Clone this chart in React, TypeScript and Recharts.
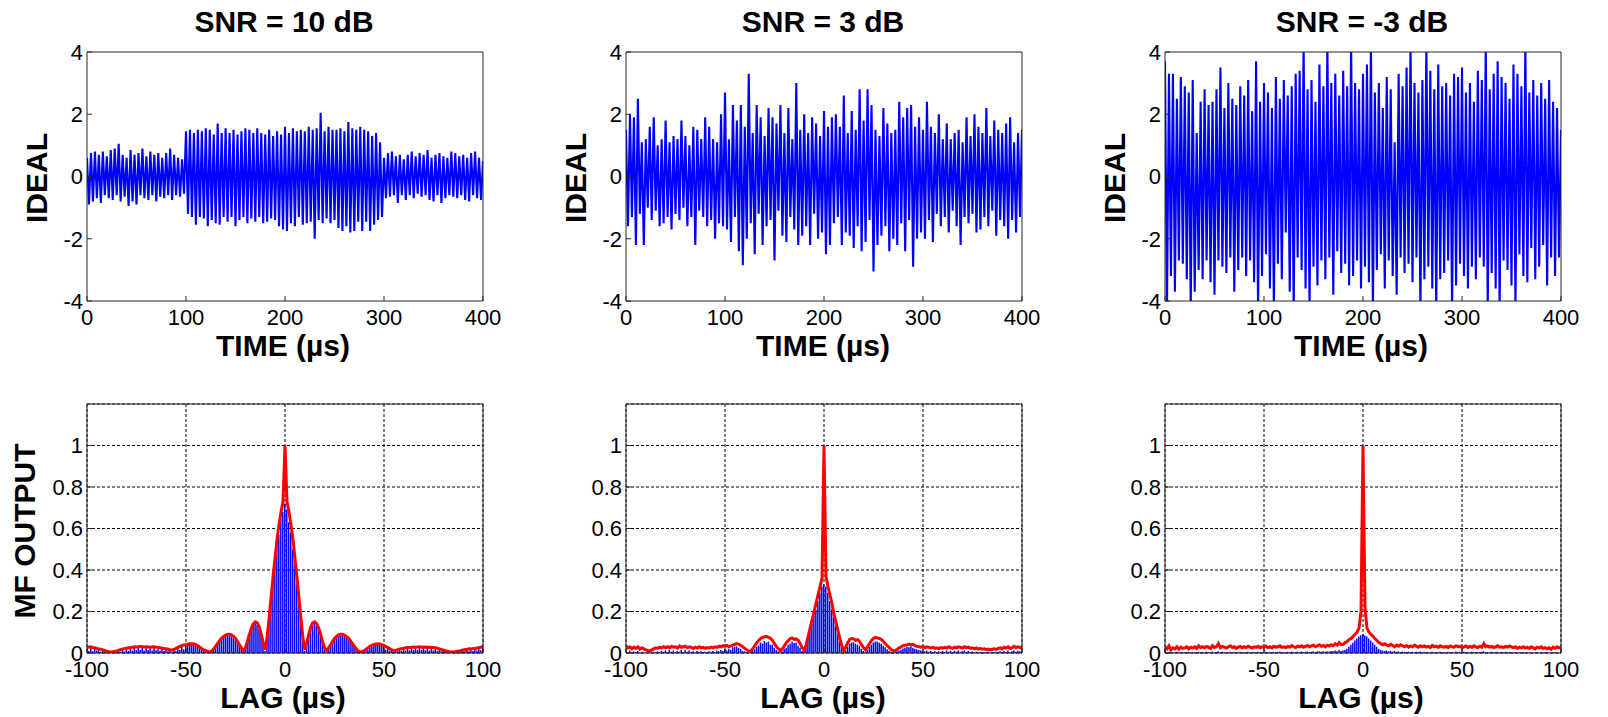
import { LineChart, Line, ComposedChart, Bar, XAxis, YAxis, CartesianGrid } from 'recharts'

// sample spacing of the time traces (µs) and first lag of the MF outputs (µs)
const timeStep = 2
const lagStart = -100

const titles = ['SNR = 10 dB', 'SNR = 3 dB', 'SNR = -3 dB']
const timeTicks = [0, 100, 200, 300, 400]
const idealTicks = [-4, -2, 0, 2, 4]
const lagTicks = [-100, -50, 0, 50, 100]
const mfTicks = [0, 0.2, 0.4, 0.6, 0.8, 1]

const ideal10 = [
  0.6, -0.9, 0.75, -0.8, 0.8, -0.7, 0.7, -0.85, 0.8, -0.6,
  0.65, -0.7, 0.85, -0.75, 0.9, -0.6, 1.05, -0.8, 0.7, -0.65,
  0.6, -0.95, 0.85, -0.8, 0.7, -0.9, 0.75, -0.6, 0.9, -0.7,
  0.65, -0.75, 0.8, -0.6, 0.7, -0.8, 0.75, -0.65, 0.6, -0.7,
  0.75, -0.6, 0.9, -0.75, 0.7, -0.6, 0.6, -0.65, 0.55, -0.55,
  1.45, -1.2, 1.5, -1.3, 1.4, -1.55, 1.5, -1.3, 1.45, -1.35,
  1.55, -1.6, 1.5, -1.4, 1.35, -1.5, 1.7, -1.55, 1.4, -1.3,
  1.55, -1.45, 1.4, -1.3, 1.5, -1.6, 1.35, -1.4, 1.45, -1.3,
  1.55, -1.5, 1.5, -1.35, 1.4, -1.45, 1.55, -1.3, 1.4, -1.5,
  1.35, -1.45, 1.5, -1.35, 1.3, -1.4, 1.45, -1.6, 1.35, -1.7,
  1.6, -1.75, 1.4, -1.5, 1.55, -1.6, 1.45, -1.3, 1.5, -1.55,
  1.45, -1.5, 1.6, -1.45, 1.5, -2.0, 1.55, -1.4, 2.05, -1.5,
  1.45, -1.35, 1.6, -1.5, 1.5, -1.4, 1.5, -1.65, 1.55, -1.75,
  1.45, -1.6, 1.75, -1.8, 1.55, -1.75, 1.5, -1.45, 1.6, -1.75,
  1.5, -1.45, 1.45, -1.75, 1.3, -1.55, 1.4, -1.4, 1.1, -1.3,
  0.6, -0.7, 0.75, -0.65, 0.8, -0.6, 0.65, -0.85, 0.7, -0.6,
  0.55, -0.75, 0.7, -0.6, 0.8, -0.7, 0.65, -0.55, 0.75, -0.65,
  0.7, -0.6, 0.85, -0.75, 0.6, -0.8, 0.7, -0.6, 0.75, -0.85,
  0.65, -0.7, 0.6, -0.6, 0.8, -0.65, 0.75, -0.7, 0.65, -0.6,
  0.7, -0.75, 0.6, -0.8, 0.75, -0.6, 0.8, -0.7, 0.6, -0.75,
  0.5,
]

const ideal3 = [
  1.5, -1.6, 2.0, -1.3, 1.9, -2.2, 2.5, -1.2, 1.1, -2.2,
  1.2, -1.0, 1.6, -1.4, 1.9, -1.1, 1.0, -1.6, 1.2, -1.5,
  1.8, -1.3, 1.1, -1.7, 1.3, -1.2, 1.2, -1.4, 1.8, -1.0,
  1.3, -1.6, 1.0, -1.3, 1.6, -2.2, 1.5, -1.1, 1.2, -1.3,
  1.9, -1.6, 1.6, -1.4, 1.2, -2.0, 1.1, -1.5, 2.0, -1.6,
  2.7, -1.7, 1.2, -2.1, 2.3, -1.3, 1.8, -2.4, 2.3, -2.85,
  1.6, -2.0, 3.3, -1.5, 1.4, -2.5, 2.3, -1.2, 1.9, -2.2,
  1.3, -1.6, 2.2, -1.4, 1.9, -2.7, 1.7, -1.1, 2.3, -1.9,
  1.4, -2.1, 2.2, -1.3, 1.2, -1.7, 3.0, -2.2, 1.5, -1.9,
  2.0, -1.6, 1.4, -2.2, 1.9, -1.2, 1.7, -2.0, 1.3, -1.8,
  2.1, -2.5, 1.6, -2.2, 1.9, -1.5, 2.0, -1.3, 1.6, -2.2,
  2.6, -1.8, 1.4, -1.9, 2.1, -2.3, 1.5, -1.6, 2.8, -2.4,
  1.8, -2.1, 2.8, -1.4, 2.3, -3.05, 1.5, -2.2, 1.3, -1.9,
  2.2, -1.6, 1.7, -2.4, 1.4, -2.0, 1.5, -2.2, 2.4, -1.5,
  1.9, -2.4, 2.2, -1.4, 2.3, -2.9, 1.6, -2.0, 1.9, -1.8,
  1.5, -2.0, 2.4, -1.4, 1.6, -2.1, 1.4, -1.2, 2.0, -1.6,
  1.2, -1.3, 1.7, -1.8, 1.2, -1.1, 1.4, -1.6, 1.5, -2.2,
  1.1, -1.3, 1.9, -1.5, 1.3, -1.2, 2.0, -1.8, 1.6, -1.7,
  1.4, -1.3, 2.2, -1.6, 1.3, -1.1, 1.8, -1.9, 1.5, -1.4,
  1.4, -1.6, 1.7, -2.0, 1.9, -1.4, 1.1, -1.8, 1.4, -1.3,
  1.5,
]

const idealM3 = [
  3.7, -4.3, 3.3, -3.2, 3.3, -3.7, 2.5, -2.7, 3.2, -2.8,
  2.9, -3.3, 2.7, -4.3, 3.1, -3.7, 1.4, -3.0, 2.4, -3.3,
  2.8, -2.7, 2.3, -3.4, 2.4, -3.8, 2.8, -2.7, 3.5, -2.9,
  2.2, -3.1, 3.0, -2.6, 2.5, -3.7, 2.3, -3.0, 2.9, -2.6,
  2.6, -3.2, 3.1, -2.7, 2.1, -3.4, 3.7, -4.3, 2.4, -3.2,
  3.0, -2.5, 2.7, -3.6, 2.2, -4.3, 3.2, -2.8, 2.5, -3.3,
  3.1, -1.8, 2.6, -3.7, 2.9, -4.3, 3.3, -2.6, 3.4, -3.0,
  4.3, -3.6, 2.8, -4.3, 3.1, -2.9, 2.4, -3.5, 3.6, -2.7,
  2.9, -3.3, 4.3, -2.6, 3.0, -3.8, 3.3, -2.4, 2.6, -3.1,
  3.4, -2.8, 2.9, -3.5, 4.3, -3.2, 3.0, -2.7, 2.8, -3.6,
  3.3, -2.9, 3.6, -3.4, 4.3, -4.3, 2.7, -3.0, 3.0, -2.5,
  2.2, -3.6, 3.2, -2.7, 2.8, -3.2, 1.1, -3.8, 3.3, -2.6,
  2.9, -3.1, 3.5, -2.8, 4.3, -3.4, 3.0, -2.6, 2.7, -4.3,
  3.1, -3.3, 4.3, -2.9, 3.4, -3.6, 2.8, -4.3, 3.6, -3.3,
  2.9, -3.1, 3.0, -2.7, 2.6, -4.3, 3.3, -3.5, 3.2, -2.8,
  3.5, -3.2, 2.7, -3.6, 3.0, -2.9, 2.4, -3.3, 3.4, -2.6,
  3.1, -2.9, 4.3, -4.3, 2.8, -3.1, 3.3, -3.6, 3.7, -4.3,
  3.2, -2.7, 3.0, -3.0, 2.5, -3.5, 3.6, -4.3, 3.3, -2.5,
  2.9, -3.2, 4.3, -3.4, 2.7, -2.3, 3.1, -3.3, 2.6, -2.9,
  3.0, -2.2, 2.5, -3.5, 3.1, -2.6, 2.4, -3.2, 2.2, -2.6,
  1.5,
]

// MF output envelopes (red) and raw outputs (blue), lag -100..100 µs
const env10 = [
  0.03, 0.028, 0.03, 0.025, 0.025, 0.022, 0.02, 0.018, 0.015, 0.012,
  0.008, 0.006, 0.005, 0.006, 0.008, 0.01, 0.013, 0.016, 0.019, 0.021,
  0.023, 0.025, 0.026, 0.028, 0.03, 0.029, 0.03, 0.031, 0.03, 0.029,
  0.03, 0.029, 0.028, 0.029, 0.03, 0.028, 0.026, 0.025, 0.023, 0.021,
  0.02, 0.018, 0.015, 0.015, 0.018, 0.022, 0.027, 0.032, 0.036, 0.039,
  0.04, 0.043, 0.045, 0.045, 0.043, 0.04, 0.035, 0.028, 0.02, 0.015,
  0.012, 0.007, 0.004, 0.01, 0.02, 0.033, 0.047, 0.06, 0.072, 0.08,
  0.086, 0.09, 0.09, 0.087, 0.08, 0.07, 0.055, 0.04, 0.025, 0.012,
  0.025, 0.055, 0.09, 0.12, 0.14, 0.15, 0.145, 0.125, 0.09, 0.05,
  0.015, 0.08, 0.17, 0.27, 0.37, 0.46, 0.55, 0.62, 0.68, 0.73,
  1.0,
  0.73, 0.68, 0.62, 0.55, 0.46, 0.37, 0.27, 0.17, 0.08, 0.015,
  0.05, 0.09, 0.125, 0.145, 0.15, 0.14, 0.12, 0.09, 0.055, 0.025,
  0.012, 0.025, 0.04, 0.055, 0.07, 0.08, 0.087, 0.09, 0.09, 0.086,
  0.08, 0.072, 0.06, 0.047, 0.033, 0.02, 0.01, 0.004, 0.007, 0.012,
  0.018, 0.026, 0.033, 0.038, 0.041, 0.043, 0.044, 0.043, 0.04, 0.036,
  0.031, 0.026, 0.02, 0.015, 0.012, 0.013, 0.016, 0.019, 0.021, 0.023,
  0.025, 0.026, 0.027, 0.028, 0.029, 0.028, 0.029, 0.03, 0.028, 0.029,
  0.028, 0.029, 0.027, 0.028, 0.026, 0.025, 0.023, 0.02, 0.017, 0.014,
  0.011, 0.008, 0.006, 0.005, 0.005, 0.006, 0.008, 0.01, 0.012, 0.015,
  0.017, 0.018, 0.02, 0.019, 0.022, 0.021, 0.024, 0.026, 0.028, 0.03,
]

const raw10 = [
  0.02, 0.01, 0.025, 0.008, 0.02, 0.012, 0.015, 0.006, 0.012, 0.005,
  0.004, 0.002, 0.003, 0.001, 0.005, 0.004, 0.01, 0.006, 0.015, 0.008,
  0.018, 0.01, 0.022, 0.012, 0.025, 0.014, 0.026, 0.015, 0.027, 0.012,
  0.026, 0.014, 0.025, 0.012, 0.026, 0.013, 0.022, 0.011, 0.02, 0.01,
  0.016, 0.008, 0.012, 0.006, 0.014, 0.01, 0.022, 0.014, 0.03, 0.018,
  0.035, 0.04, 0.042, 0.04, 0.04, 0.035, 0.03, 0.024, 0.016, 0.012,
  0.01, 0.004, 0.002, 0.008, 0.017, 0.03, 0.042, 0.055, 0.066, 0.074,
  0.08, 0.085, 0.082, 0.08, 0.072, 0.063, 0.048, 0.035, 0.02, 0.008,
  0.02, 0.05, 0.08, 0.11, 0.13, 0.14, 0.135, 0.115, 0.08, 0.04,
  0.01, 0.06, 0.16, 0.24, 0.35, 0.42, 0.52, 0.57, 0.65, 0.68,
  0.72,
  0.69, 0.63, 0.58, 0.5, 0.43, 0.33, 0.25, 0.15, 0.07, 0.01,
  0.04, 0.082, 0.115, 0.136, 0.14, 0.13, 0.11, 0.08, 0.05, 0.02,
  0.008, 0.02, 0.035, 0.05, 0.063, 0.072, 0.08, 0.082, 0.085, 0.08,
  0.074, 0.066, 0.055, 0.042, 0.03, 0.017, 0.008, 0.002, 0.004, 0.01,
  0.012, 0.016, 0.024, 0.03, 0.035, 0.04, 0.04, 0.042, 0.04, 0.034,
  0.016, 0.024, 0.01, 0.013, 0.006, 0.011, 0.008, 0.016, 0.01, 0.02,
  0.012, 0.024, 0.013, 0.026, 0.014, 0.025, 0.015, 0.027, 0.014, 0.026,
  0.013, 0.026, 0.012, 0.025, 0.012, 0.022, 0.01, 0.018, 0.008, 0.013,
  0.005, 0.007, 0.003, 0.004, 0.001, 0.003, 0.004, 0.008, 0.006, 0.013,
  0.008, 0.016, 0.009, 0.018, 0.01, 0.02, 0.012, 0.024, 0.013, 0.026,
]

const env3 = [
  0.035, 0.025, 0.03, 0.02, 0.028, 0.022, 0.03, 0.018, 0.025, 0.02,
  0.015, 0.012, 0.01, 0.014, 0.02, 0.025, 0.022, 0.028, 0.024, 0.03,
  0.026, 0.03, 0.025, 0.032, 0.028, 0.03, 0.024, 0.034, 0.027, 0.03,
  0.033, 0.025, 0.03, 0.027, 0.022, 0.028, 0.024, 0.03, 0.025, 0.027,
  0.022, 0.026, 0.024, 0.028, 0.025, 0.03, 0.027, 0.033, 0.03, 0.035,
  0.032, 0.036, 0.03, 0.034, 0.038, 0.042, 0.045, 0.042, 0.036, 0.03,
  0.022, 0.015, 0.008, 0.01, 0.02, 0.035, 0.05, 0.06, 0.07, 0.075,
  0.078, 0.08, 0.075, 0.07, 0.06, 0.045, 0.03, 0.02, 0.012, 0.02,
  0.035, 0.05, 0.06, 0.07, 0.072, 0.065, 0.068, 0.06, 0.045, 0.025,
  0.012, 0.04, 0.08, 0.12, 0.16, 0.2, 0.24, 0.28, 0.32, 0.36,
  1.0,
  0.37, 0.32, 0.28, 0.24, 0.19, 0.15, 0.11, 0.07, 0.035, 0.012,
  0.03, 0.05, 0.065, 0.07, 0.068, 0.06, 0.065, 0.055, 0.04, 0.025,
  0.015, 0.03, 0.045, 0.06, 0.07, 0.075, 0.072, 0.07, 0.065, 0.055,
  0.045, 0.035, 0.025, 0.015, 0.01, 0.012, 0.018, 0.025, 0.03, 0.035,
  0.038, 0.04, 0.043, 0.04, 0.042, 0.035, 0.032, 0.03, 0.028, 0.032,
  0.025, 0.03, 0.027, 0.024, 0.028, 0.022, 0.025, 0.021, 0.026, 0.023,
  0.027, 0.024, 0.03, 0.026, 0.022, 0.028, 0.025, 0.03, 0.027, 0.024,
  0.03, 0.026, 0.028, 0.022, 0.025, 0.02, 0.024, 0.019, 0.022, 0.018,
  0.02, 0.016, 0.019, 0.015, 0.018, 0.02, 0.017, 0.022, 0.025, 0.02,
  0.028, 0.024, 0.03, 0.022, 0.026, 0.032, 0.025, 0.03, 0.027, 0.022,
]

const raw3 = [
  0.01, 0.004, 0.012, 0.003, 0.008, 0.005, 0.01, 0.002, 0.006, 0.003,
  0.002, 0.001, 0.002, 0.003, 0.006, 0.004, 0.008, 0.005, 0.01, 0.006,
  0.012, 0.005, 0.014, 0.006, 0.012, 0.005, 0.01, 0.006, 0.014, 0.004,
  0.015, 0.006, 0.012, 0.005, 0.008, 0.004, 0.01, 0.006, 0.008, 0.005,
  0.006, 0.004, 0.008, 0.006, 0.01, 0.005, 0.012, 0.008, 0.014, 0.01,
  0.018, 0.012, 0.02, 0.015, 0.028, 0.03, 0.032, 0.025, 0.02, 0.01,
  0.008, 0.004, 0.002, 0.004, 0.01, 0.018, 0.03, 0.035, 0.05, 0.045,
  0.058, 0.05, 0.055, 0.04, 0.04, 0.025, 0.015, 0.008, 0.004, 0.008,
  0.02, 0.025, 0.04, 0.045, 0.055, 0.048, 0.05, 0.035, 0.025, 0.01,
  0.005, 0.025, 0.065, 0.1, 0.14, 0.18, 0.21, 0.25, 0.29, 0.32,
  0.33,
  0.32, 0.29, 0.25, 0.21, 0.17, 0.13, 0.09, 0.055, 0.025, 0.005,
  0.012, 0.03, 0.045, 0.05, 0.052, 0.045, 0.04, 0.035, 0.02, 0.01,
  0.006, 0.015, 0.03, 0.04, 0.05, 0.055, 0.056, 0.05, 0.045, 0.035,
  0.028, 0.018, 0.01, 0.005, 0.003, 0.004, 0.008, 0.012, 0.016, 0.022,
  0.025, 0.03, 0.028, 0.032, 0.025, 0.02, 0.018, 0.014, 0.012, 0.01,
  0.008, 0.012, 0.006, 0.01, 0.005, 0.009, 0.004, 0.008, 0.006, 0.01,
  0.005, 0.012, 0.006, 0.01, 0.004, 0.011, 0.006, 0.012, 0.005, 0.009,
  0.012, 0.005, 0.01, 0.004, 0.008, 0.003, 0.007, 0.004, 0.006, 0.003,
  0.005, 0.002, 0.006, 0.003, 0.005, 0.004, 0.006, 0.005, 0.008, 0.004,
  0.01, 0.005, 0.012, 0.004, 0.009, 0.012, 0.006, 0.011, 0.008, 0.004,
]

const envM3 = [
  0.03, 0.02, 0.035, 0.015, 0.025, 0.02, 0.03, 0.018, 0.028, 0.022,
  0.025, 0.03, 0.02, 0.028, 0.024, 0.03, 0.022, 0.035, 0.026, 0.03,
  0.025, 0.032, 0.028, 0.022, 0.035, 0.027, 0.03, 0.045, 0.025, 0.032,
  0.028, 0.024, 0.03, 0.035, 0.026, 0.03, 0.022, 0.028, 0.032, 0.025,
  0.03, 0.026, 0.033, 0.028, 0.024, 0.03, 0.027, 0.032, 0.025, 0.03,
  0.028, 0.033, 0.026, 0.03, 0.024, 0.032, 0.028, 0.03, 0.035, 0.027,
  0.03, 0.025, 0.032, 0.028, 0.036, 0.03, 0.026, 0.033, 0.03, 0.035,
  0.028, 0.032, 0.036, 0.03, 0.034, 0.038, 0.03, 0.035, 0.04, 0.032,
  0.036, 0.03, 0.038, 0.034, 0.04, 0.035, 0.045, 0.038, 0.05, 0.04,
  0.042, 0.05, 0.055, 0.065, 0.07, 0.08, 0.09, 0.1, 0.12, 0.2,
  1.0,
  0.22, 0.12, 0.1, 0.09, 0.08, 0.07, 0.06, 0.05, 0.045, 0.04,
  0.045, 0.038, 0.035, 0.042, 0.036, 0.03, 0.038, 0.033, 0.04, 0.035,
  0.03, 0.036, 0.028, 0.034, 0.03, 0.038, 0.032, 0.028, 0.035, 0.03,
  0.034, 0.028, 0.032, 0.026, 0.036, 0.03, 0.033, 0.027, 0.035, 0.03,
  0.028, 0.032, 0.026, 0.034, 0.03, 0.028, 0.035, 0.03, 0.032, 0.026,
  0.03, 0.034, 0.027, 0.032, 0.028, 0.035, 0.03, 0.026, 0.033, 0.028,
  0.045, 0.03, 0.034, 0.028, 0.032, 0.026, 0.03, 0.035, 0.028, 0.03,
  0.026, 0.032, 0.028, 0.034, 0.03, 0.026, 0.03, 0.022, 0.028, 0.025,
  0.03, 0.024, 0.028, 0.022, 0.03, 0.025, 0.02, 0.028, 0.024, 0.03,
  0.022, 0.026, 0.02, 0.025, 0.018, 0.028, 0.022, 0.03, 0.025, 0.028,
]

const rawM3 = [
  0.006, 0.002, 0.005, 0.003, 0.004, 0.002, 0.006, 0.003, 0.005, 0.002,
  0.004, 0.003, 0.006, 0.002, 0.005, 0.004, 0.003, 0.006, 0.004, 0.005,
  0.003, 0.006, 0.004, 0.003, 0.007, 0.004, 0.005, 0.008, 0.003, 0.006,
  0.004, 0.003, 0.005, 0.006, 0.003, 0.005, 0.002, 0.004, 0.006, 0.003,
  0.005, 0.004, 0.006, 0.003, 0.004, 0.005, 0.003, 0.006, 0.004, 0.005,
  0.004, 0.006, 0.003, 0.005, 0.004, 0.006, 0.004, 0.005, 0.007, 0.004,
  0.005, 0.003, 0.006, 0.004, 0.007, 0.005, 0.004, 0.006, 0.005, 0.007,
  0.004, 0.006, 0.007, 0.005, 0.006, 0.008, 0.005, 0.007, 0.009, 0.006,
  0.008, 0.006, 0.009, 0.007, 0.01, 0.008, 0.012, 0.009, 0.014, 0.01,
  0.012, 0.015, 0.02, 0.03, 0.04, 0.05, 0.06, 0.07, 0.08, 0.085,
  0.09,
  0.085, 0.08, 0.07, 0.06, 0.05, 0.04, 0.03, 0.02, 0.015, 0.012,
  0.01, 0.012, 0.008, 0.011, 0.007, 0.009, 0.006, 0.008, 0.005, 0.007,
  0.006, 0.004, 0.007, 0.005, 0.006, 0.004, 0.006, 0.005, 0.007, 0.004,
  0.006, 0.004, 0.005, 0.003, 0.006, 0.004, 0.005, 0.003, 0.006, 0.004,
  0.005, 0.003, 0.006, 0.004, 0.005, 0.003, 0.007, 0.004, 0.005, 0.003,
  0.006, 0.004, 0.005, 0.003, 0.006, 0.004, 0.005, 0.003, 0.004, 0.006,
  0.008, 0.004, 0.005, 0.003, 0.006, 0.004, 0.005, 0.006, 0.003, 0.005,
  0.004, 0.006, 0.003, 0.005, 0.004, 0.003, 0.005, 0.002, 0.004, 0.003,
  0.005, 0.003, 0.004, 0.002, 0.005, 0.003, 0.002, 0.004, 0.003, 0.005,
  0.003, 0.004, 0.002, 0.003, 0.002, 0.004, 0.003, 0.005, 0.003, 0.004,
]

const FONT = '"Liberation Sans", Arial, sans-serif'
const PLOT_W = 396
const PLOT_H = 249
const AXIS_W = 50
const AXIS_H = 30
const M_TOP = 20
const M_RIGHT = 26
// the top and right frame axes need 1px of room, otherwise recharts skips them
const CHART_W = AXIS_W + PLOT_W + 1 + M_RIGHT
const CHART_H = M_TOP + 1 + PLOT_H + AXIS_H

const colLeft = [87, 626, 1165]
const topRowY = 52
const bottomRowY = 404

const frame = { stroke: '#262626', strokeWidth: 1 }
const TICK_FS = 22

const XTick = (p: any) => (
  <text x={p.x} y={p.y} dy="0.71em" textAnchor="middle" fill="#000" fontSize={TICK_FS} fontFamily={FONT}>
    {p.payload.value}
  </text>
)
const YTick = (p: any) => (
  <text x={p.x} y={p.y} dy="0.36em" textAnchor="end" fill="#000" fontSize={TICK_FS} fontFamily={FONT}>
    {p.payload.value}
  </text>
)

const toTimeData = (vals: number[]) => vals.map((v, i) => ({ t: i * timeStep, v }))
const toLagData = (env: number[], raw: number[]) =>
  env.map((e, i) => ({ lag: lagStart + i, env: e, raw: raw[i] }))

function Text({ x, y, text, size = 30, rotate = false }: { x: number; y: number; text: string; size?: number; rotate?: boolean }) {
  return (
    <div
      style={{
        position: 'absolute',
        left: x,
        top: y,
        transform: `translate(-50%, -50%)${rotate ? ' rotate(-90deg)' : ''}`,
        fontFamily: FONT,
        fontWeight: 'bold',
        fontSize: size,
        lineHeight: 1,
        whiteSpace: 'nowrap',
        color: '#000',
      }}
    >
      {text}
    </div>
  )
}

function SignalPanel({ values, left }: { values: number[]; left: number }) {
  return (
    <div style={{ position: 'absolute', left: left - AXIS_W, top: topRowY - M_TOP - 1 }}>
      <LineChart width={CHART_W} height={CHART_H} data={toTimeData(values)} margin={{ top: M_TOP, right: M_RIGHT, bottom: 0, left: 0 }}>
        <XAxis dataKey="t" type="number" domain={[0, 400]} ticks={timeTicks} interval={0} height={AXIS_H}
          tickSize={-5} tickMargin={13} tick={XTick} axisLine={frame} tickLine={frame} allowDataOverflow />
        <XAxis xAxisId="top" orientation="top" dataKey="t" type="number" domain={[0, 400]} ticks={timeTicks} interval={0}
          height={1} tickSize={-5} tick={false} axisLine={frame} tickLine={frame} allowDataOverflow />
        <YAxis type="number" domain={[-4, 4]} ticks={idealTicks} interval={0} width={AXIS_W}
          tickSize={-5} tickMargin={9} tick={YTick} axisLine={frame} tickLine={frame} allowDataOverflow />
        <YAxis yAxisId="right" orientation="right" type="number" domain={[-4, 4]} ticks={idealTicks} interval={0} width={1}
          tickSize={-5} tick={false} axisLine={frame} tickLine={frame} allowDataOverflow />
        <Line dataKey="v" stroke="#0000ff" strokeWidth={2.1} dot={false} isAnimationActive={false} />
        <Line xAxisId="top" yAxisId="right" dataKey="v" stroke="none" dot={false} activeDot={false} isAnimationActive={false} />
      </LineChart>
    </div>
  )
}

function MfPanel({ env, raw, left }: { env: number[]; raw: number[]; left: number }) {
  return (
    <div style={{ position: 'absolute', left: left - AXIS_W, top: bottomRowY - M_TOP - 1 }}>
      <ComposedChart width={CHART_W} height={CHART_H} data={toLagData(env, raw)} margin={{ top: M_TOP, right: M_RIGHT, bottom: 0, left: 0 }}>
        <CartesianGrid stroke="#000" strokeDasharray="3 2" />
        <XAxis dataKey="lag" type="number" domain={[-100, 100]} ticks={lagTicks} interval={0} height={AXIS_H}
          tickSize={-5} tickMargin={13} tick={XTick} axisLine={frame} tickLine={frame} allowDataOverflow />
        <XAxis xAxisId="top" orientation="top" dataKey="lag" type="number" domain={[-100, 100]} ticks={lagTicks} interval={0}
          height={1} tickSize={-5} tick={false} axisLine={frame} tickLine={frame} allowDataOverflow />
        <YAxis type="number" domain={[0, 1.2]} ticks={mfTicks} interval={0} width={AXIS_W}
          tickSize={-5} tickMargin={9} tick={YTick} axisLine={frame} tickLine={frame} allowDataOverflow />
        <YAxis yAxisId="right" orientation="right" type="number" domain={[0, 1.2]} ticks={mfTicks} interval={0} width={1}
          tickSize={-5} tick={false} axisLine={frame} tickLine={frame} allowDataOverflow />
        <Bar dataKey="raw" fill="#0000ff" barSize={1.5} isAnimationActive={false} />
        <Line dataKey="env" stroke="#ff0000" strokeWidth={3} dot={false} isAnimationActive={false} />
        <Line xAxisId="top" yAxisId="right" dataKey="env" stroke="none" dot={false} activeDot={false} isAnimationActive={false} />
      </ComposedChart>
    </div>
  )
}

export default function App() {
  const ideal = [ideal10, ideal3, idealM3]
  const envs = [env10, env3, envM3]
  const raws = [raw10, raw3, rawM3]
  const titleX = [284, 823, 1362]
  const timeLabelX = [283, 823, 1361]
  const lagLabelX = [283, 823, 1361]
  const idealLabelX = [37, 576, 1115]
  return (
    <div style={{ position: 'absolute', left: 0, top: 0, width: 1608, height: 717, background: '#fff', overflow: 'hidden' }}>
      {colLeft.map((x, i) => (
        <div key={i}>
          <SignalPanel values={ideal[i]} left={x} />
          <MfPanel env={envs[i]} raw={raws[i]} left={x} />
          <Text x={titleX[i]} y={22} text={titles[i]} />
          <Text x={timeLabelX[i]} y={346} text="TIME (µs)" />
          <Text x={lagLabelX[i]} y={698} text="LAG (µs)" />
          <Text x={idealLabelX[i]} y={178} text="IDEAL" rotate />
        </div>
      ))}
      <Text x={25} y={531} text="MF OUTPUT" rotate />
    </div>
  )
}
